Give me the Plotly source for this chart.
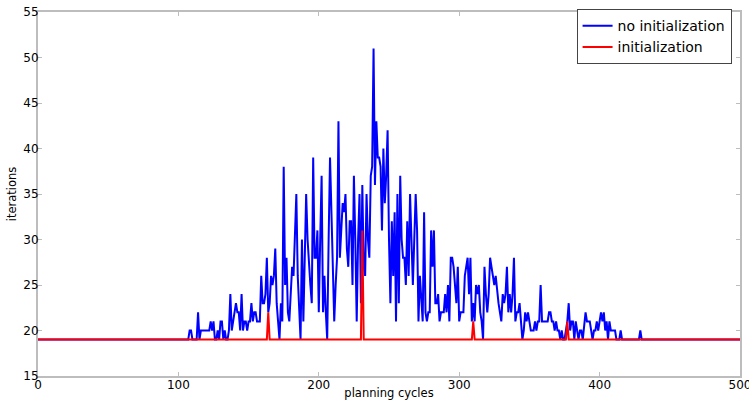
import plotly.graph_objects as go

# planning cycles (x) and iterations for the "no initialization" run
cycles_noinit = [0] + list(range(105, 431)) + [500]
iters_noinit = [19,
    19, 19, 19, 20, 20, 19, 19, 19, 19, 22,   # 105-114
    19, 20, 20, 20, 20, 20, 20, 20, 21, 20,   # 115-124
    21, 19, 19, 20, 19, 21, 21, 19, 20, 19,   # 125-134
    19, 20, 24, 20, 21, 22, 23, 22, 22, 20,   # 135-144
    24, 20, 21, 21, 20, 21, 21, 23, 21, 22,   # 145-154
    22, 21, 21, 21, 26, 23, 23, 24, 28, 22,   # 155-164
    23, 26, 25, 26, 29, 23, 21, 19, 23, 21,   # 165-174
    38, 25, 28, 22, 21, 24, 27, 26, 30, 35,   # 175-184
    26, 23, 19, 30, 21, 28, 35, 30, 27, 25,   # 185-194
    23, 39, 28, 28, 31, 22, 30, 37, 22, 26,   # 195-204
    22, 19, 30, 39, 33, 26, 21, 25, 28, 43,   # 205-214
    28, 31, 34, 33, 35, 29, 27, 32, 32, 25,   # 215-224
    37, 30, 21, 30, 35, 23, 36, 27, 26, 35,   # 225-234
    30, 28, 37, 38, 51, 36, 43, 39, 39, 38,   # 235-244
    31, 40, 34, 37, 42, 30, 23, 32, 26, 33,   # 245-254
    21, 35, 23, 37, 30, 28, 28, 25, 32, 26,   # 255-264
    35, 30, 25, 30, 35, 31, 21, 26, 24, 21,   # 265-274
    33, 22, 21, 22, 22, 31, 27, 31, 23, 23,   # 275-284
    24, 21, 22, 22, 22, 24, 22, 25, 21, 28,   # 285-294
    28, 27, 25, 23, 27, 21, 22, 22, 22, 26,   # 295-304
    27, 28, 24, 28, 21, 23, 21, 25, 24, 25,   # 305-314
    22, 21, 19, 27, 24, 22, 24, 28, 27, 26,   # 315-324
    25, 26, 24, 23, 22, 21, 24, 23, 24, 27,   # 325-334
    22, 24, 22, 24, 28, 21, 22, 22, 23, 21,   # 335-344
    19, 20, 22, 21, 22, 21, 20, 20, 20, 21,   # 345-354
    20, 21, 21, 25, 21, 21, 21, 21, 21, 22,   # 355-364
    22, 21, 21, 20, 21, 20, 20, 19, 20, 19,   # 365-374
    19, 20, 21, 23, 20, 21, 21, 19, 21, 20,   # 375-384
    19, 20, 20, 19, 21, 22, 21, 21, 21, 20,   # 385-394
    19, 20, 20, 21, 20, 21, 22, 21, 22, 20,   # 395-404
    21, 19, 21, 20, 20, 20, 20, 19, 19, 19,   # 405-414
    20, 19, 19, 19, 19, 19, 19, 19, 19, 19,   # 415-424
    19, 19, 19, 19, 20, 19,                   # 425-430
    19]

# "initialization" run: flat at 19 with a few spikes
cycles_init = [0, 163, 164, 165, 230, 231, 232, 309, 310, 311, 376, 377, 378, 500]
iters_init = [19, 19, 22, 19, 19, 31, 19, 19, 21, 19, 19, 21, 19, 19]

x_ticks = [0, 100, 200, 300, 400, 500]
y_ticks = [15, 20, 25, 30, 35, 40, 45, 50, 55]

fig = go.Figure()
fig.add_trace(go.Scatter(x=cycles_noinit, y=iters_noinit, mode="lines",
                         name="no initialization",
                         line=dict(color="#0000ff", width=2)))
fig.add_trace(go.Scatter(x=cycles_init, y=iters_init, mode="lines",
                         name="initialization",
                         line=dict(color="#ff0000", width=2)))

axis_common = dict(showline=True, linecolor="#bdbdbd", linewidth=2, mirror="ticks",
                   ticks="inside", ticklen=4, tickcolor="#bdbdbd", showgrid=False,
                   zeroline=False, automargin=False, ticklabeloverflow="allow",
                   tickfont=dict(family="DejaVu Sans", size=12, color="#000"))

fig.update_xaxes(range=[0, 500], tickvals=x_ticks, ticktext=[str(v) for v in x_ticks],
                 ticklabelstandoff=-3,
                 title=dict(text="planning cycles", standoff=0,
                            font=dict(family="DejaVu Sans", size=11.5, color="#000")),
                 **axis_common)
fig.update_yaxes(range=[15, 55], tickvals=y_ticks, ticktext=[str(v) for v in y_ticks],
                 ticklabelstandoff=-5,
                 title=dict(text="iterations", standoff=4,
                            font=dict(family="DejaVu Sans", size=11.5, color="#000")),
                 **axis_common)

fig.update_layout(
    width=749, height=400,
    margin=dict(l=38, r=9, t=9, b=24),
    plot_bgcolor="white", paper_bgcolor="white",
    font=dict(family="DejaVu Sans", color="#000"),
    legend=dict(x=0.988, y=1.008, xanchor="right", yanchor="top",
                bgcolor="white", bordercolor="#444", borderwidth=1,
                font=dict(family="DejaVu Sans", size=14, color="#000"),
                tracegroupgap=0, itemwidth=30),
    showlegend=True,
)

fig.write_html("out.html", config={"displayModeBar": False},
               post_script="document.body.style.margin='0';document.body.style.overflow='hidden';")
